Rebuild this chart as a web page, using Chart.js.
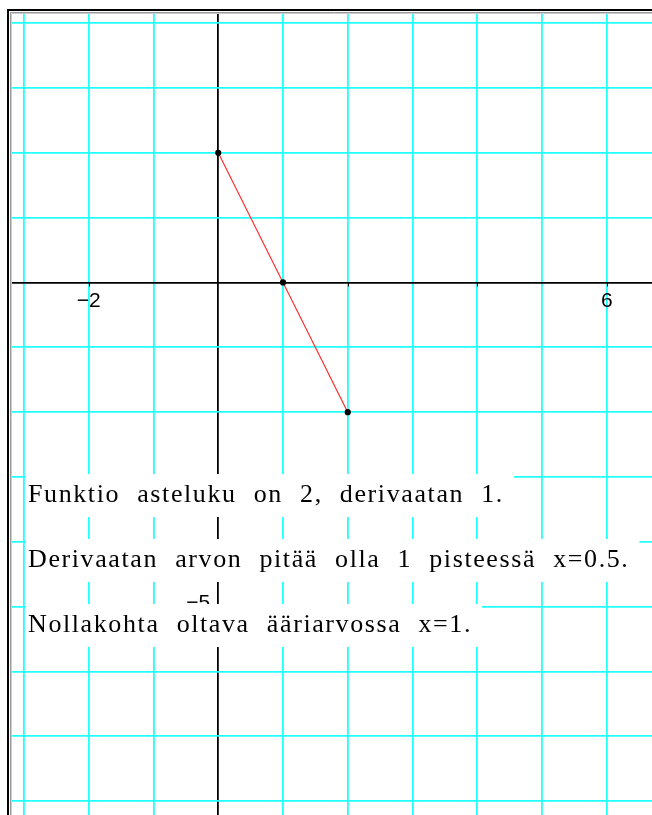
<!DOCTYPE html>
<html>
<head>
<meta charset="utf-8">
<script src="https://cdn.jsdelivr.net/npm/chart.js@4"></script>
<style>
  html, body { margin: 0; padding: 0; background: #fff; overflow: hidden; }
  canvas { display: block; }
</style>
</head>
<body>
<canvas id="chart" width="658" height="822"></canvas>
<script>
// line segment (derivative graph)
const xValues = [0, 1, 2];
const yValues = [2, 0, -2];

// visible window of the plot
const xMin = -3.2, xMax = 6.71;
const yMin = -8.24, yMax = 4.14;

// axis labels that the picture shows
const xLabels = [-2, 6];
const yLabels = [-5];
const xTickMarks = [-2, 2, 4, 6];

const notes = [
	"Funktio asteluku on 2, derivaatan 1.",
	"Derivaatan arvon pitää olla 1 pisteessä x=0.5.",
	"Nollakohta oltava ääriarvossa x=1."
];

const CYAN = "#22ffff";

function gridColor(c) {
	let v = c.tick && c.tick.value;
	if (v === 0) return "#000";
	return CYAN;
}

function intTicks(scale) {
	let t = [];
	for (let v = Math.ceil(scale.min); v <= Math.floor(scale.max); v++) t.push({ value: v });
	scale.ticks = t;
}

const framePlugin = {
	id: "frame",
	beforeDraw(chart) {
		let ctx = chart.ctx;
		ctx.save();
		ctx.fillStyle = "#fff";
		ctx.fillRect(0, 0, chart.width, chart.height);
		ctx.restore();
	},
	afterDatasetsDraw(chart) {
		let ctx = chart.ctx;
		let xs = chart.scales.x, ys = chart.scales.y;
		let x0 = xs.getPixelForValue(0), y0 = ys.getPixelForValue(0);
		ctx.save();
		// small tick marks on x axis
		ctx.strokeStyle = "#000";
		ctx.lineWidth = 1;
		xTickMarks.forEach(v => {
			let px = Math.round(xs.getPixelForValue(v)) + 0.5;
			ctx.beginPath();
			ctx.moveTo(px, y0);
			ctx.lineTo(px, y0 + 4);
			ctx.stroke();
		});
		// labels
		ctx.fillStyle = "#000";
		ctx.font = "21px 'Liberation Sans'";
		ctx.textAlign = "center";
		ctx.textBaseline = "alphabetic";
		xLabels.forEach(v => {
			ctx.fillText(String(v).replace("-", "\u2212"), xs.getPixelForValue(v), y0 + 25);
		});
		ctx.textAlign = "right";
		ctx.textBaseline = "middle";
		yLabels.forEach(v => {
			ctx.fillText(String(v).replace("-", "\u2212"), x0 - 8, ys.getPixelForValue(v) - 3);
		});

		// text boxes
		ctx.font = "26px 'Liberation Serif'";
		ctx.letterSpacing = "1.6px";
		ctx.wordSpacing = "9px";
		ctx.textAlign = "left";
		ctx.textBaseline = "alphabetic";
		notes.forEach((t, i) => {
			let top = 474 + i * 65;
			let w = ctx.measureText(t).width;
			ctx.fillStyle = "#fff";
			ctx.fillRect(26, top, w + 12, 43);
			ctx.fillStyle = "#000";
			ctx.fillText(t, 28, top + 28);
		});

		// window border
		ctx.letterSpacing = "0px";
		ctx.wordSpacing = "0px";
		ctx.lineWidth = 2;
		ctx.strokeStyle = "#000";
		ctx.beginPath();
		ctx.moveTo(8, chart.height);
		ctx.lineTo(8, 10);
		ctx.lineTo(chart.width, 10);
		ctx.stroke();
		ctx.lineWidth = 1;
		ctx.strokeStyle = "#999";
		ctx.beginPath();
		ctx.moveTo(10.5, chart.height);
		ctx.lineTo(10.5, 12.5);
		ctx.lineTo(chart.width, 12.5);
		ctx.stroke();
		ctx.strokeStyle = "#ccc";
		ctx.beginPath();
		ctx.moveTo(11.5, chart.height);
		ctx.lineTo(11.5, 13.5);
		ctx.lineTo(chart.width, 13.5);
		ctx.stroke();
		ctx.restore();
	}
};

let ctx = document.getElementById("chart").getContext("2d");
window.chart = new Chart(ctx, {
	type: "scatter",
	data: {
		datasets: [
			{
				data: xValues.map((x, i) => ({ x, y: yValues[i] })),
				showLine: true,
				borderColor: "#ff3030",
				borderWidth: 1.2,
				pointBackgroundColor: "#000",
				pointBorderColor: "#000",
				pointRadius: 2.5,
				tension: 0,
				fill: false
			}
		]
	},
	options: {
		responsive: false,
		animation: false,
		layout: { padding: { left: 11, top: 14, right: 0, bottom: 0 } },
		plugins: { legend: { display: false }, tooltip: { enabled: false } },
		scales: {
			x: {
				type: "linear",
				min: xMin,
				max: xMax,
				afterBuildTicks: intTicks,
				ticks: { display: false },
				grid: { color: gridColor, lineWidth: 1.8, drawTicks: false },
				border: { display: false },
				afterFit(s) { s.height = 0; }
			},
			y: {
				type: "linear",
				min: yMin,
				max: yMax,
				afterBuildTicks: intTicks,
				ticks: { display: false },
				grid: { color: gridColor, lineWidth: 1.8, drawTicks: false },
				border: { display: false },
				afterFit(s) { s.width = 0; }
			}
		}
	},
	plugins: [framePlugin]
});
</script>
</body>
</html>
